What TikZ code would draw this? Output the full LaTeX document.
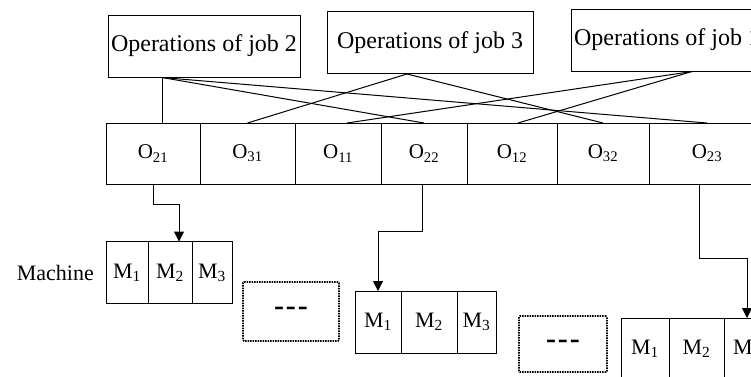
\documentclass[tikz,border=0pt]{standalone}
\usepackage{fontspec}
\setmainfont{Liberation Serif}
\usetikzlibrary{arrows.meta,positioning,calc}

\begin{document}
\begin{tikzpicture}[x=1pt, y=-1pt,
  jobbox/.style={draw, line width=1pt, inner sep=0pt, minimum height=62pt,
                 font=\fontsize{24}{28}\selectfont},
  opcell/.style={draw, line width=1pt, inner sep=0pt, outer sep=0pt,
                 minimum height=61pt, font=\fontsize{21}{24}\selectfont},
  mcell/.style={draw, line width=1pt, inner sep=0pt, outer sep=0pt,
                minimum height=62pt, font=\fontsize{22}{26}\selectfont},
  gapbox/.style={draw, line width=1.6pt, dash pattern=on 1.5pt off 1pt,
                 rounded corners=1pt, inner sep=0pt,
                 font=\fontsize{30}{32}\selectfont\bfseries},
  link/.style={line width=1pt},
  arr/.style={line width=1pt, -{Triangle[length=10pt,width=10pt]}}
]
  \useasboundingbox (0,0) rectangle (751,376);
  \clip (0,0) rectangle (751,376);

  \node[jobbox, minimum width=192pt] (job2) at (204,46) {Operations of job 2};
  \node[jobbox, minimum width=206pt] (job3) at (430,42.5) {Operations of job 3};
  \node[jobbox, minimum width=192pt] (job1) at (667,40) {Operations of job 1};

  \node[opcell, minimum width=94pt] (o21) at (153,153.5) {O\textsubscript{21}};
  \node[opcell, minimum width=95pt, right=0pt of o21] (o31) {O\textsubscript{31}};
  \node[opcell, minimum width=86pt, right=0pt of o31] (o11) {O\textsubscript{11}};
  \node[opcell, minimum width=86pt, right=0pt of o11] (o22) {O\textsubscript{22}};
  \node[opcell, minimum width=90pt, right=0pt of o22] (o12) {O\textsubscript{12}};
  \node[opcell, minimum width=92pt, right=0pt of o12] (o32) {O\textsubscript{32}};
  \node[opcell, minimum width=116pt, right=0pt of o32] (o23) {O\textsubscript{23}};

  \coordinate (j2a) at ([xshift=-42pt]job2.south);
  \coordinate (j3a) at ([xshift=-23pt]job3.south);
  \coordinate (j1a) at ([xshift=25pt]job1.south);

  \draw[link] (j2a) -- (j2a |- o21.north);
  \draw[link] (j2a) -- (o22.north);
  \draw[link] (j2a) -- (o23.north);
  \draw[link] (j3a) -- (o31.north);
  \draw[link] (j3a) -- (o32.north);
  \draw[link] (j1a) -- ([xshift=9pt]o11.north);
  \draw[link] (j1a) -- ([xshift=6pt]o12.north);

  \node[mcell, minimum width=42pt] (m11) at (127,272.5) {M\textsubscript{1}};
  \node[mcell, minimum width=44pt, right=0pt of m11] (m12) {M\textsubscript{2}};
  \node[mcell, minimum width=40pt, right=0pt of m12] (m13) {M\textsubscript{3}};
  \node[font=\fontsize{22}{26}\selectfont, inner sep=0pt, left=12pt of m11] (mlabel) {Machine};

  \node[mcell, minimum width=46pt] (m21) at (378,322) {M\textsubscript{1}};
  \node[mcell, minimum width=56pt, right=0pt of m21] (m22) {M\textsubscript{2}};
  \node[mcell, minimum width=39pt, right=0pt of m22] (m23) {M\textsubscript{3}};

  \node[mcell, minimum width=48pt] (m31) at (645,349) {M\textsubscript{1}};
  \node[mcell, minimum width=55pt, right=0pt of m31] (m32) {M\textsubscript{2}};
  \node[mcell, minimum width=46pt, right=0pt of m32] (m33) {M\textsubscript{3}};

  \node[gapbox, minimum width=96pt, minimum height=59pt] (gap1) at (291,311.5)
    {-\kern2pt-\kern2pt-};
  \node[gapbox, minimum width=88pt, minimum height=56pt] (gap2) at (563,344)
    {-\kern2pt-\kern2pt-};

  \draw[arr] (o21.south) -- ++(0,20) -| ([xshift=9pt]m12.north);
  \draw[arr] ([xshift=-2pt]o22.south) -- ++(0,47) -| (m21.north);
  \draw[arr] ([xshift=-8pt]o23.south) -- ++(0,74) -| (m33.north);
\end{tikzpicture}
\end{document}
